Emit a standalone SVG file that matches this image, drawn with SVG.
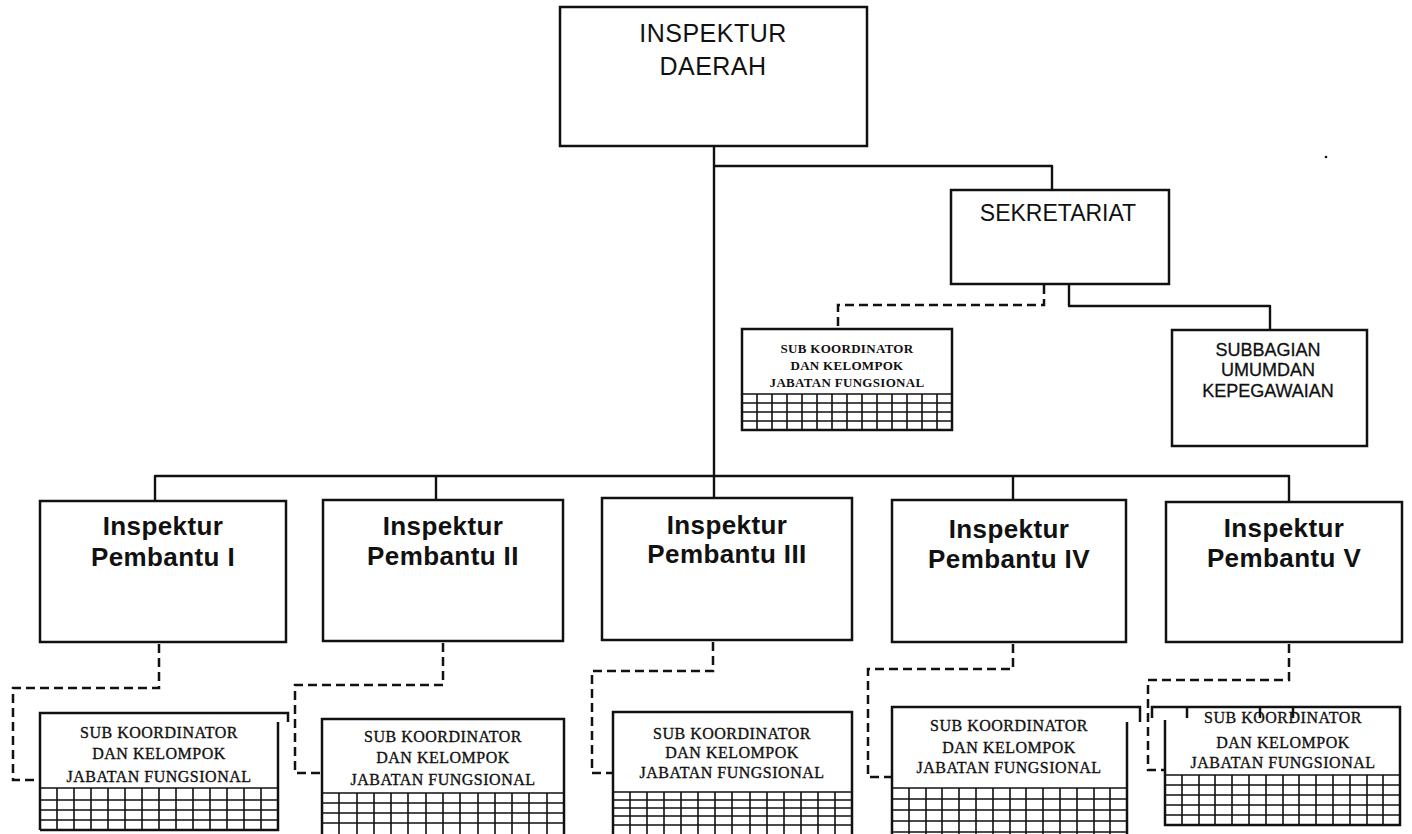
<svg xmlns="http://www.w3.org/2000/svg" width="1412" height="834" viewBox="0 0 1412 834">
<style>
.box{fill:#fff;stroke:#111;stroke-width:2.5}
.edge{fill:none;stroke:#111;stroke-width:2.5}
.ln{fill:none;stroke:#111;stroke-width:2.4;stroke-linejoin:round}
.dash{fill:none;stroke:#111;stroke-width:2.5;stroke-dasharray:9 5}
.grid{fill:none;stroke:#111;stroke-width:1.6}
.t1{font-family:"Liberation Sans",Arial,sans-serif;font-size:25px;fill:#111;text-anchor:middle;letter-spacing:0.5px}
.t2{font-family:"Liberation Sans",Arial,sans-serif;font-size:23px;fill:#111;text-anchor:middle}
.t3{font-family:"Liberation Sans",Arial,sans-serif;font-size:18px;fill:#111;text-anchor:middle;stroke:#111;stroke-width:0.3}
.tb{font-family:"Liberation Sans",Arial,sans-serif;font-size:26px;font-weight:bold;fill:#111;text-anchor:middle;letter-spacing:0.4px}
.ts{font-family:"Liberation Serif","Times New Roman",serif;font-size:16px;fill:#111;text-anchor:middle;letter-spacing:0.5px;stroke:#111;stroke-width:0.35}
.tss{font-family:"Liberation Serif","Times New Roman",serif;font-size:13px;font-weight:bold;fill:#111;text-anchor:middle;letter-spacing:0.3px}
</style>
<rect width="1412" height="834" fill="#fff"/>

<g id="connectors">
  <path class="ln" d="M714 146V498"/>
  <path class="ln" d="M714 166H1052V190"/>
  <path class="ln" d="M1069 284V306H1270V330"/>
  <path class="ln" d="M155 501V476H1289V502"/>
  <path class="ln" d="M436 476V500"/>
  <path class="ln" d="M1013 476V500"/>
  <path class="dash" d="M1044 285V305H838V329"/>
  <path class="dash" d="M159 644V688H13V780H40"/>
  <path class="dash" d="M443 643V685H295V773H322"/>
  <path class="dash" d="M713 642V671H592V773H613"/>
  <path class="dash" d="M1013 644V669H868V777H892"/>
  <path class="dash" d="M1289 644V680H1148V770H1165"/>
</g>

<g id="inspektur-daerah">
  <rect class="box" x="560" y="7" width="307" height="139"/>
  <text class="t1" x="713" y="42">INSPEKTUR</text>
  <text class="t1" x="713" y="75">DAERAH</text>
</g>

<g id="sekretariat">
  <rect class="box" x="951" y="190" width="218" height="94"/>
  <text class="t2" x="1058" y="221">SEKRETARIAT</text>
</g>

<g id="subbagian-umum">
  <rect class="box" x="1172" y="330" width="195" height="116"/>
  <text class="t3" x="1268" y="356">SUBBAGIAN</text>
  <text class="t3" x="1268" y="376">UMUMDAN</text>
  <text class="t3" x="1268" y="397">KEPEGAWAIAN</text>
</g>

<g id="sub-koordinator-sekretariat">
  <rect class="box" x="742" y="329" width="210" height="101"/>
  <text class="tss" x="847" y="353">SUB KOORDINATOR</text>
  <text class="tss" x="847" y="370">DAN KELOMPOK</text>
  <text class="tss" x="847" y="387">JABATAN FUNGSIONAL</text>
  <path class="grid" d="M742 394H952M742 403H952M742 412H952M742 421H952M757 394V430M772 394V430M787 394V430M802 394V430M817 394V430M832 394V430M847 394V430M862 394V430M877 394V430M892 394V430M907 394V430M922 394V430M937 394V430"/>
</g>

<g id="inspektur-pembantu-1">
  <rect class="box" x="40" y="501" width="246" height="141"/>
  <text class="tb" x="163" y="535">Inspektur</text>
  <text class="tb" x="163" y="566">Pembantu I</text>
</g>
<g id="inspektur-pembantu-2">
  <rect class="box" x="323" y="500" width="240" height="141"/>
  <text class="tb" x="443" y="535">Inspektur</text>
  <text class="tb" x="443" y="565">Pembantu II</text>
</g>
<g id="inspektur-pembantu-3">
  <rect class="box" x="602" y="498" width="250" height="142"/>
  <text class="tb" x="727" y="534">Inspektur</text>
  <text class="tb" x="727" y="563">Pembantu III</text>
</g>
<g id="inspektur-pembantu-4">
  <rect class="box" x="892" y="500" width="234" height="142"/>
  <text class="tb" x="1009" y="538">Inspektur</text>
  <text class="tb" x="1009" y="568">Pembantu IV</text>
</g>
<g id="inspektur-pembantu-5">
  <rect class="box" x="1166" y="502" width="236" height="140"/>
  <text class="tb" x="1284" y="537">Inspektur</text>
  <text class="tb" x="1284" y="567">Pembantu V</text>
</g>

<g id="sub-koordinator-1">
  <path class="edge" d="M40 830V713H288V722M278 722V830H40"/>
  <text class="ts" x="159" y="738">SUB KOORDINATOR</text>
  <text class="ts" x="159" y="759">DAN KELOMPOK</text>
  <text class="ts" x="159" y="782">JABATAN FUNGSIONAL</text>
  <path class="grid" d="M40 788H278M40 800H278M40 810H278M40 820H278M57 788V830M74 788V830M91 788V830M108 788V830M125 788V830M142 788V830M159 788V830M176 788V830M193 788V830M210 788V830M227 788V830M244 788V830M261 788V830"/>
</g>

<g id="sub-koordinator-2">
  <path class="edge" d="M322 836V719H564V836"/>
  <text class="ts" x="443" y="742">SUB KOORDINATOR</text>
  <text class="ts" x="443" y="763">DAN KELOMPOK</text>
  <text class="ts" x="443" y="785">JABATAN FUNGSIONAL</text>
  <path class="grid" d="M322 793H564M322 803H564M322 813H564M322 823H564M339 793V836M357 793V836M374 793V836M391 793V836M408 793V836M426 793V836M443 793V836M460 793V836M478 793V836M495 793V836M512 793V836M529 793V836M547 793V836"/>
</g>

<g id="sub-koordinator-3">
  <path class="edge" d="M613 836V712H852V836"/>
  <text class="ts" x="732" y="739">SUB KOORDINATOR</text>
  <text class="ts" x="732" y="758">DAN KELOMPOK</text>
  <text class="ts" x="732" y="778">JABATAN FUNGSIONAL</text>
  <path class="grid" d="M613 792H852M613 800H852M613 808H852M613 816H852M613 825H852M630 792V836M647 792V836M664 792V836M681 792V836M698 792V836M715 792V836M732 792V836M750 792V836M767 792V836M784 792V836M801 792V836M818 792V836M835 792V836"/>
</g>

<g id="sub-koordinator-4">
  <path class="edge" d="M892 836V707H1140V722M1127 722V836"/>
  <text class="ts" x="1009" y="731">SUB KOORDINATOR</text>
  <text class="ts" x="1009" y="753">DAN KELOMPOK</text>
  <text class="ts" x="1009" y="773">JABATAN FUNGSIONAL</text>
  <path class="grid" d="M892 788H1127M892 799H1127M892 810H1127M892 821H1127M892 832H1127M909 788V836M926 788V836M942 788V836M959 788V836M976 788V836M993 788V836M1010 788V836M1026 788V836M1043 788V836M1060 788V836M1077 788V836M1094 788V836M1110 788V836"/>
</g>

<g id="sub-koordinator-5">
  <path class="edge" d="M1152 718V707H1400V825H1165V720M1187 707V718M1260 707V718M1293 707V718"/>
  <text class="ts" x="1283" y="723">SUB KOORDINATOR</text>
  <text class="ts" x="1283" y="748">DAN KELOMPOK</text>
  <text class="ts" x="1283" y="768">JABATAN FUNGSIONAL</text>
  <path class="grid" d="M1165 775H1400M1165 785H1400M1165 795H1400M1165 805H1400M1165 815H1400M1182 775V825M1199 775V825M1215 775V825M1232 775V825M1249 775V825M1266 775V825M1283 775V825M1299 775V825M1316 775V825M1333 775V825M1350 775V825M1367 775V825M1383 775V825"/>
</g>

<circle cx="1326" cy="157" r="1.3" fill="#111"/>
</svg>
